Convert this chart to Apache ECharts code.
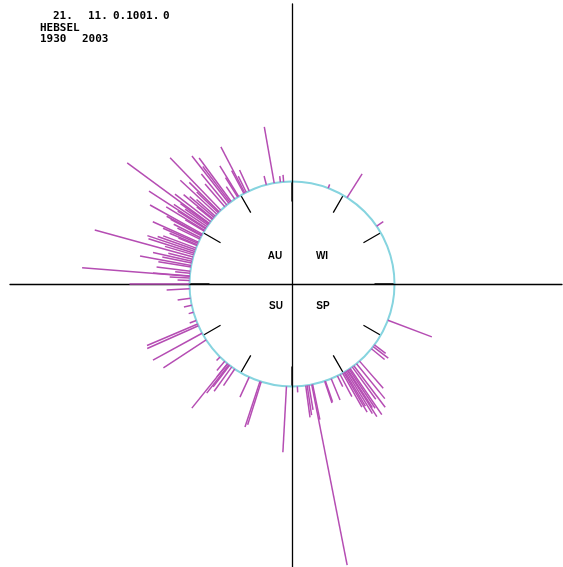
<!DOCTYPE html>
<html>
<head>
<meta charset="utf-8">
<script src="https://cdn.jsdelivr.net/npm/echarts@6/dist/echarts.min.js"></script>
<style>
  html, body { margin: 0; padding: 0; background: #ffffff; }
  #chart { width: 563px; height: 567px; }
</style>
</head>
<body>
<div id="chart"></div>
<script>
// Direction of each ray (degrees, counter-clockwise from east) and its length beyond the circle
const angleDeg = [
  94.7, 96.5, 100, 104.5, 114.7, 116.5, 117.4, 118, 121.4, 122, 124, 126.4, 127.2, 128, 129.5, 131,
  134, 135.3, 136, 137.1, 138.5, 139.5, 140.5, 141, 142.5, 143.7, 144.2, 145, 146, 147, 147.5, 148.5,
  149, 150.9, 151.6, 152, 153.2, 154, 155.9, 156.6, 157.5, 158, 159.5, 160.5, 161.5, 162.5, 163.5,
  164.7, 166, 167.2, 168.2, 169.6, 170.5, 172.8, 174, 175.5, 175.6, 176.7, 178, 180,
  182.7, 188, 192, 196, 200.9, 203, 204, 208.7, 213.1, 225.4, 229, 231, 231.1, 232, 232.5, 234, 236,
  245.3, 251.8, 252.5, 266.9,
  273, 277.7, 278.5, 279.5, 281.1, 281.6, 288.6, 289, 292.5, 296.3, 298, 299.6, 300.4, 301, 301.8,
  302.6, 303, 303.8, 304.5, 306, 307.1, 309, 311.2, 320.8, 322.4, 323.5, 339.3,
  34.3, 57.5, 69.3
];
const rayLength = [
  7, 6, 57, 9, 23, 18, 52, 26, 36, 23, 15, 54, 45, 60, 40, 30,
  73, 42, 30, 50, 25, 32, 38, 20, 45, 102, 35, 28, 40, 68, 33, 45,
  22, 60, 40, 35, 30, 25, 50, 38, 30, 20, 35, 40, 50, 48, 30,
  102, 25, 40, 30, 52, 33, 34, 15, 37, 108, 20, 12, 60,
  23, 13, 8, 5, 7, 55, 56, 56, 51, 5, 12, 17, 57, 36, 27, 30, 20,
  22, 48, 45, 66,
  6, 32, 30, 25, 184, 36, 23, 22, 23, 12, 25, 39, 46, 40, 50,
  55, 45, 47, 56, 40, 52, 45, 36, 17, 19, 14, 47,
  8, 28, 4
];
const seasonLabels = ['AU', 'WI', 'SU', 'SP'];
const headerRow1 = ['21.', '11.', '0.1001.', '0'];
const stationName = 'HEBSEL';
const yearRange = ['1930', '2003'];

const BASE_R = 102.5; // radius of the reference circle, in axis units

const chart = echarts.init(document.getElementById('chart'), null, { renderer: 'canvas' });

const textFont = { fontFamily: 'DejaVu Sans Mono', fontWeight: 'bold', fontSize: 11, fill: '#000' };
const seasonFont = { fontFamily: 'Liberation Sans', fontWeight: 'bold', fontSize: 10, fill: '#000' };

const headerX = [53, 88, 113, 163];
const seasonPos = [[275, 256], [322, 256], [276, 306], [323, 306]];

const graphics = [];
headerRow1.forEach((t, i) => graphics.push({ type: 'text', left: headerX[i], top: 11, style: Object.assign({ text: t }, textFont) }));
graphics.push({ type: 'text', left: 40, top: 23, style: Object.assign({ text: stationName }, textFont) });
graphics.push({ type: 'text', left: 40, top: 34, style: Object.assign({ text: yearRange[0] }, textFont) });
graphics.push({ type: 'text', left: 82, top: 34, style: Object.assign({ text: yearRange[1] }, textFont) });
seasonLabels.forEach((t, i) => graphics.push({
  type: 'text', x: seasonPos[i][0], y: seasonPos[i][1],
  style: Object.assign({ text: t, align: 'center', verticalAlign: 'middle' }, seasonFont)
}));

const option = {
  animation: false,
  backgroundColor: '#ffffff',
  grid: { left: 10, top: 4, width: 552, height: 563 },
  xAxis: {
    type: 'value', min: -282, max: 270,
    axisLine: { show: true, onZero: true, lineStyle: { color: '#000', width: 1.3 } },
    axisTick: { show: false }, axisLabel: { show: false }, splitLine: { show: false }
  },
  yAxis: {
    type: 'value', min: -283, max: 280,
    axisLine: { show: true, onZero: true, lineStyle: { color: '#000', width: 1.3 } },
    axisTick: { show: false }, axisLabel: { show: false }, splitLine: { show: false }
  },
  polar: { center: [292, 284], radius: BASE_R },
  angleAxis: {
    type: 'value', min: 0, max: 360, interval: 30, startAngle: 0, clockwise: false,
    axisLine: { show: true, lineStyle: { color: '#86d4df', width: 2 } },
    axisTick: { show: true, inside: true, length: 20, lineStyle: { color: '#000', width: 1.3 } },
    axisLabel: { show: false }, splitLine: { show: false }
  },
  radiusAxis: { min: 0, max: 1, show: false, axisLine: { show: false }, axisTick: { show: false }, axisLabel: { show: false }, splitLine: { show: false } },
  graphic: graphics,
  series: [{
    type: 'custom',
    coordinateSystem: 'cartesian2d',
    clip: false,
    data: angleDeg.map((a, i) => [a, rayLength[i]]),
    renderItem: function (params, api) {
      const a = api.value(0) * Math.PI / 180;
      const L = api.value(1);
      const p0 = api.coord([BASE_R * Math.cos(a), BASE_R * Math.sin(a)]);
      const p1 = api.coord([(BASE_R + L) * Math.cos(a), (BASE_R + L) * Math.sin(a)]);
      return {
        type: 'line',
        shape: { x1: p0[0], y1: p0[1], x2: p1[0], y2: p1[1] },
        style: { stroke: '#b54db3', lineWidth: 1.5 }
      };
    }
  }]
};
chart.setOption(option);
</script>
</body>
</html>
